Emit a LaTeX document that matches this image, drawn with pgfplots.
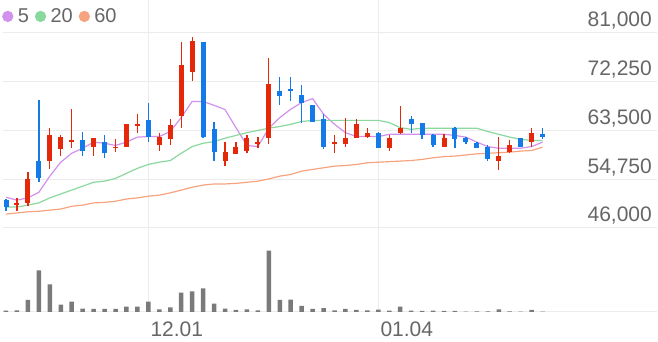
\documentclass[border=0pt]{standalone}
\usepackage{pgfplots}
\usepackage{pgfplotstable}
\pgfplotsset{compat=1.18}
\usepackage{fontspec}
\setmainfont{Liberation Sans}

\definecolor{upc}{RGB}{230,40,10}
\definecolor{dnc}{RGB}{20,122,232}
\definecolor{ma5c}{RGB}{210,145,236}
\definecolor{ma20c}{RGB}{138,216,158}
\definecolor{ma60c}{RGB}{246,164,127}
\definecolor{volc}{RGB}{122,122,122}
\definecolor{gridc}{RGB}{236,236,236}
\definecolor{labc}{RGB}{102,102,102}

\pgfplotstableread{
i o h l c
1 50100 51400 49000 50500
2 50500 56000 49900 54700
4 58100 63900 56500 62600
5 60100 62600 59000 62400
6 61400 67400 60300 61700
8 60500 62100 58900 62100
10 60300 61900 59700 60600
11 60600 64700 60500 64600
12 64400 66500 63100 64700
14 60800 63000 59900 62400
15 61900 65500 60800 64400
16 66000 79400 63900 75300
17 74000 80300 72400 79600
20 58100 61500 57100 59600
21 59200 61400 59200 60600
22 59800 62600 59400 62100
23 61000 62400 60300 61400
24 62100 76400 61000 71900
30 61000 62600 59400 61400
31 61000 65800 60600 62100
32 62100 65600 62100 64600
33 62400 63900 62100 63100
35 60300 62600 59900 62100
36 63100 67800 62800 64000
40 60500 62800 60500 62100
45 58000 62400 56400 59000
46 59600 61700 59400 60800
48 61400 63900 60600 63000
}\updata

\pgfplotstableread{
i o h l c
0 51000 51200 49000 49800
3 58000 68900 54200 54900
7 61700 63300 58900 59900
9 61500 62600 58500 59400
13 65300 68500 61400 62300
18 79400 79400 62100 62300
19 63700 65100 58100 59600
25 70500 73100 68100 69600
26 71000 73100 68700 70600
27 69900 71700 64900 68500
28 68100 68100 65100 65100
29 65500 66400 60100 60500
34 63100 63300 60300 60300
37 65500 66000 63100 64600
38 64900 64900 61900 62600
39 62600 62800 60500 60800
41 63900 64200 60300 61900
42 62100 62400 61000 61400
43 61200 61400 60300 60300
44 60600 60800 58100 58300
47 62100 62100 60600 60600
49 62800 63900 61900 62400
}\dndata

\pgfplotstableread{
i ma5 ma20 ma60
0 51500 49750 48500
1 51000 49750 48700
2 51400 50100 48900
3 52400 50500 49000
4 55300 51400 49200
5 57800 52100 49400
6 59400 52800 49900
7 60300 53500 50100
8 61400 54200 50500
9 61200 54400 50600
10 60800 54900 50800
11 61400 55800 51200
12 62300 56700 51400
13 62400 57400 51700
14 62400 57800 51900
15 63300 58100 52300
16 65800 59400 52800
17 68700 60600 53300
18 68700 61200 53700
19 68000 61500 53900
20 67250 62100 53900
21 64000 62600 54000
22 60800 63100 54200
23 60600 63500 54400
24 63900 63900 54800
25 65800 64200 55300
26 67300 64600 55600
27 68500 65100 56200
28 69200 65300 56500
29 66400 65300 56800
30 64600 65300 57100
31 63100 65300 57200
32 62400 65300 57400
33 62400 65300 57700
34 62400 65300 57800
35 62800 64900 57900
36 62800 64000 58000
37 62800 63700 58100
38 62800 63900 58300
39 62800 63900 58600
40 62800 63900 58800
41 62600 63900 58900
42 62300 63900 59100
43 61400 63900 59300
44 60600 63300 59400
45 60300 62800 59500
46 60300 62300 59600
47 60300 61900 59800
48 60600 61700 59900
49 61400 61700 60500
}\madata

\pgfplotstableread{
i v
0 26
1 34
2 240
3 832
4 554
5 146
6 206
7 66
8 60
9 60
10 60
11 106
12 106
13 206
14 54
15 94
16 386
17 414
18 474
19 166
20 66
21 40
22 54
23 34
24 1226
25 240
26 246
27 120
28 60
29 76
30 34
31 60
32 40
33 34
34 46
35 26
36 106
37 26
38 20
39 26
40 20
41 20
42 6
43 14
44 14
45 54
46 14
47 6
48 40
49 6
}\voldata

\newcommand{\legfont}{\fontsize{20}{23}\selectfont}

\begin{document}
\begin{tikzpicture}
\useasboundingbox (0,0) rectangle (658pt,342pt);
\begin{axis}[
  at={(3pt,114pt)}, anchor=south west,
  scale only axis, width=654pt, height=228pt,
  xmin=-0.274, xmax=59.45, ymin=46000, ymax=86893,
  scaled ticks=false,
  axis line style={draw=none},
  major tick length=0pt,
  xtick={13,34}, xticklabels={},
  ytick={46000,54750,63500,72250,81000},
  yticklabels={{46,000},{54,750},{63,500},{72,250},{81,000}},
  yticklabel pos=right,
  yticklabel style={anchor=base east, inner sep=0pt, xshift=-5pt, yshift=6pt,
    font=\fontsize{21}{25}\selectfont, text=labc},
  xmajorgrids, ymajorgrids,
  major grid style={gridc, line width=1pt},
  legend columns=3,
  legend style={at={(0,1)}, anchor=north west, xshift=-1pt, yshift=-8.5pt,
    draw=none, fill=none, inner sep=0pt,
    font=\legfont, text=labc,
    /tikz/every odd column/.append style={column sep=0pt},
    /tikz/every even column/.append style={column sep=6pt},
    nodes={inner sep=0pt, font=\legfont, text=labc}},
]
\addplot[ma5c, line width=1.2pt, mark=none,
  legend image code/.code={\fill[ma5c] (5pt,0pt) circle (5pt); \path[draw=none,fill=none] (0pt,0pt) -- (15pt,0pt);}]
  table[x=i, y=ma5] {\madata};
\addlegendentry{\legfont 5}
\addplot[ma20c, line width=1.2pt, mark=none,
  legend image code/.code={\fill[ma20c] (5pt,0pt) circle (5pt); \path[draw=none,fill=none] (0pt,0pt) -- (15pt,0pt);}]
  table[x=i, y=ma20] {\madata};
\addlegendentry{\legfont 20}
\addplot[ma60c, line width=1.2pt, mark=none,
  legend image code/.code={\fill[ma60c] (5pt,0pt) circle (5pt); \path[draw=none,fill=none] (0pt,0pt) -- (15pt,0pt);}]
  table[x=i, y=ma60] {\madata};
\addlegendentry{\legfont 60}
% wicks
\addplot[draw=none, mark=none, forget plot,
  error bars/.cd, y dir=both, y explicit, error mark=none,
  error bar style={line width=1.3pt, draw=upc}]
  table[x=i, y expr={(\thisrow{h}+\thisrow{l})/2}, y error expr={(\thisrow{h}-\thisrow{l})/2}] {\updata};
\addplot[draw=none, mark=none, forget plot,
  error bars/.cd, y dir=both, y explicit, error mark=none,
  error bar style={line width=1.3pt, draw=dnc}]
  table[x=i, y expr={(\thisrow{h}+\thisrow{l})/2}, y error expr={(\thisrow{h}-\thisrow{l})/2}] {\dndata};
% bodies
\addplot[draw=none, mark=none, forget plot,
  error bars/.cd, y dir=both, y explicit, error mark=none,
  error bar style={line width=5pt, draw=upc}]
  table[x=i, y expr={(\thisrow{o}+\thisrow{c})/2}, y error expr={abs(\thisrow{c}-\thisrow{o})/2}] {\updata};
\addplot[draw=none, mark=none, forget plot,
  error bars/.cd, y dir=both, y explicit, error mark=none,
  error bar style={line width=5pt, draw=dnc}]
  table[x=i, y expr={(\thisrow{o}+\thisrow{c})/2}, y error expr={abs(\thisrow{c}-\thisrow{o})/2}] {\dndata};
\end{axis}

\begin{axis}[
  at={(3pt,30pt)}, anchor=south west,
  scale only axis, width=654pt, height=84pt,
  xmin=-0.274, xmax=59.45, ymin=0, ymax=1680,
  scaled ticks=false,
  axis line style={draw=none},
  major tick length=0pt,
  xtick={13,34}, xticklabels={12.01,01.04},
  xticklabel style={anchor=base west, inner sep=0pt, xshift=2pt, yshift=-25pt,
    font=\fontsize{21}{25}\selectfont, text=labc},
  ytick={0}, yticklabels={},
  xmajorgrids, ymajorgrids,
  major grid style={gridc, line width=1pt},
]
\addplot[ybar, bar width=4.5pt, bar shift=0pt, fill=volc, draw=none] table[x=i, y=v] {\voldata};
\end{axis}
\end{tikzpicture}
\end{document}
